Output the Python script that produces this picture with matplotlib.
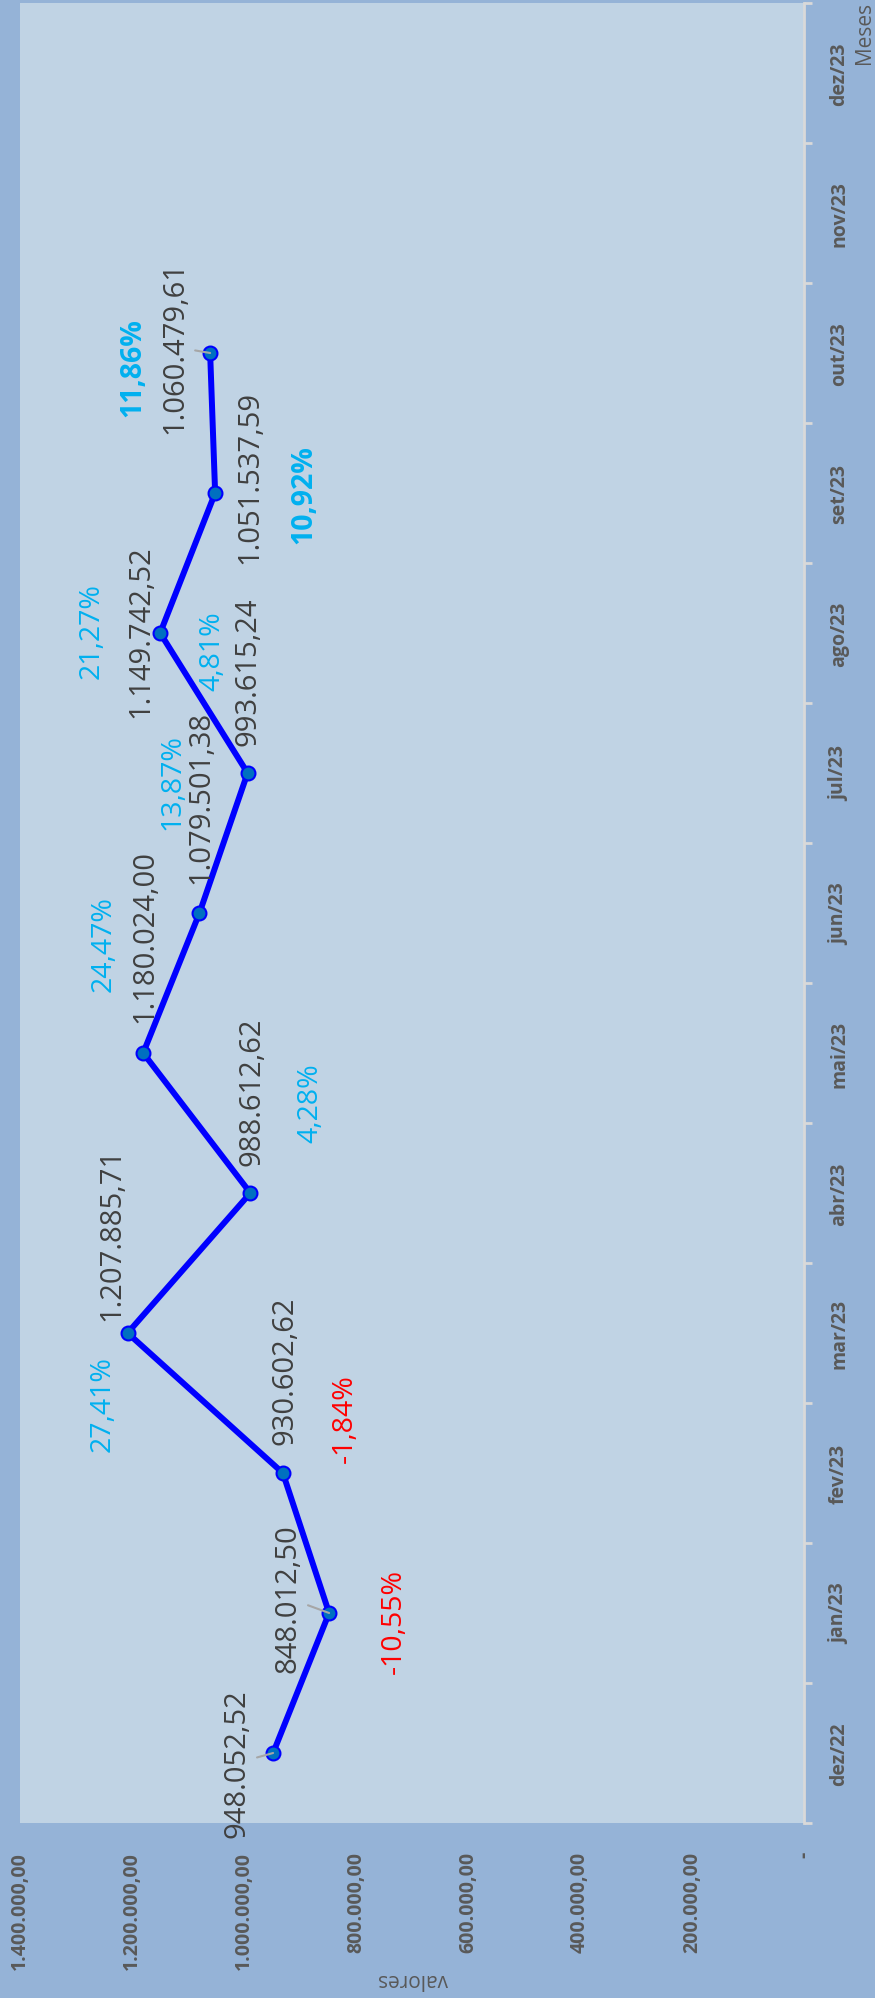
import matplotlib
matplotlib.use("Agg")
import matplotlib.pyplot as plt
from matplotlib import font_manager

# dados
meses = ['dez/22', 'jan/23', 'fev/23', 'mar/23', 'abr/23', 'mai/23', 'jun/23',
         'jul/23', 'ago/23', 'set/23', 'out/23', 'nov/23', 'dez/23']
valores = [948052.52, 848012.50, 930602.62, 1207885.71, 988612.62, 1180024.00,
           1079501.38, 993615.24, 1149742.52, 1051537.59, 1060479.61]
variacao = [-10.55, -1.84, 27.41, 4.28, 24.47, 13.87, 4.81, 21.27, 10.92, 11.86]
valor_ticks = [0, 200000, 400000, 600000, 800000, 1000000, 1200000, 1400000]

# posicao dos rotulos (pixels, relativo ao ponto)
off_valor = [(-36, -10), (-41, 15), (2, 103), (-16, 100), (2, 102), (2, 117),
             (1, 117), (0, 102), (-19, 2), (35, 17), (-35, 6)]
leader = [True, True, False, False, False, False, False, False, False, False, True]
off_var = [(65, -8), (62, 55), (-25, -70), (60, 91), (-40, 110), (-27, 132),
           (-35, 123), (-69, 3), (89, -1), (-77, -14)]
var_bold = [False] * 8 + [True, True]


def br(v, casas=2):
    s = f"{v:,.{casas}f}"
    return s.replace(',', 'X').replace('.', ',').replace('X', '.')


# escolhe uma familia que tenha negrito de verdade
fonte = 'DejaVu Sans'
for fam in ['Noto Sans', 'Open Sans', 'Lato', 'Roboto']:
    pesos = [f.weight for f in font_manager.fontManager.ttflist if f.name == fam]
    if any(p in (700, 'bold') for p in pesos):
        fonte = fam
        break
plt.rcParams['font.family'] = [fonte, 'DejaVu Sans']

fig = plt.figure(figsize=(8.75, 19.99), dpi=100, facecolor='#95B3D7')
ax = fig.add_axes([20 / 875, 175 / 1999, 784 / 875, 1820 / 1999])
ax.set_facecolor('#C0D3E4')

pos = list(range(len(valores)))
ax.plot(valores, pos, color='#0000FF', lw=4.3, marker='o', markersize=10,
        markerfacecolor='#0070C0', markeredgecolor='#0000FF', markeredgewidth=1.5,
        solid_joinstyle='miter', zorder=3)

for i, v in enumerate(valores):
    dx, dy = off_valor[i]
    kw = {}
    if leader[i]:
        kw['arrowprops'] = dict(arrowstyle='-', color='#A6A6A6', lw=1.5,
                                shrinkA=2, shrinkB=0)
    ax.annotate(br(v), (v, i), xytext=(dx, dy), textcoords='offset pixels',
                rotation=90, ha='center', va='center', fontsize=21,
                color='#404040', zorder=4, **kw)

for i, p in enumerate(variacao):
    k = i + 1
    dx, dy = off_var[i]
    cor = '#FF0000' if p < 0 else '#00B0F0'
    ax.annotate(br(p) + '%', (valores[k], k), xytext=(dx, dy),
                textcoords='offset pixels', rotation=90, ha='center', va='center',
                fontsize=20.5, color=cor,
                fontweight='bold' if var_bold[i] else 'normal', zorder=4)

ax.set_xlim(1400000, 0)
ax.set_ylim(-0.5, len(meses) - 0.5)

# eixo dos valores (embaixo)
ax.set_xticks(valor_ticks)
ax.set_xticklabels(['-' if v == 0 else br(v) for v in valor_ticks],
                   rotation=90, va='top', fontweight='bold')
ax.tick_params(axis='x', length=0, pad=20, labelsize=14, labelcolor='#595959')

# eixo dos meses (direita)
ax.yaxis.tick_right()
ax.set_yticks(range(len(meses)))
ax.set_yticklabels(meses, rotation=90, va='center', fontweight='bold')
ax.set_yticks([i - 0.5 for i in range(len(meses) + 1)], minor=True)
ax.tick_params(axis='y', which='major', length=0, pad=18, labelsize=14,
               labelcolor='#595959')
ax.tick_params(axis='y', which='minor', length=6, width=2, color='#D9D9D9',
               direction='out')

for s in ['top', 'bottom', 'left']:
    ax.spines[s].set_visible(False)
ax.spines['right'].set_color('#D9D9D9')
ax.spines['right'].set_linewidth(2)

fig.text(864 / 875, 1 - 33 / 1999, 'Meses', rotation=90, ha='center', va='center',
         fontsize=15, color='#595959')
fig.text(413 / 875, 1 - 1980 / 1999, 'valores', rotation=180, ha='center',
         va='center', fontsize=15, color='#595959')

fig.savefig('out.png', dpi=100, facecolor=fig.get_facecolor())
